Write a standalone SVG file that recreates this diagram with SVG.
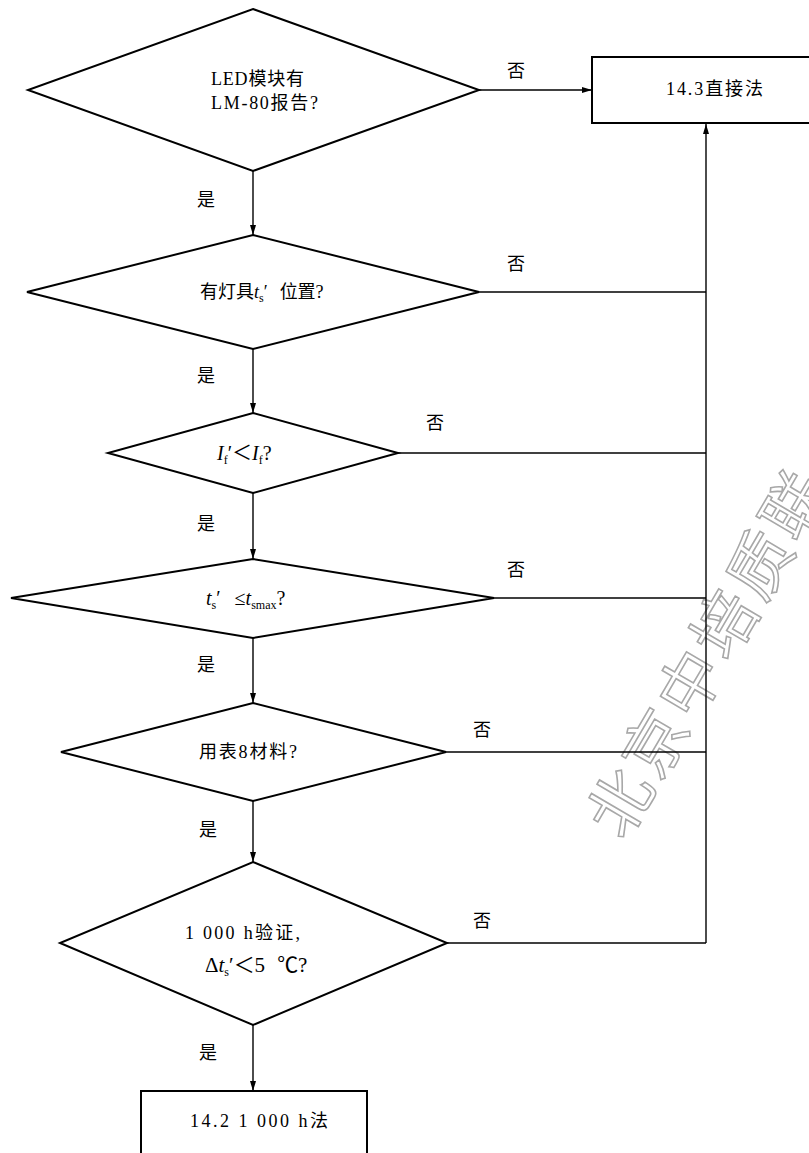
<svg xmlns="http://www.w3.org/2000/svg" width="809" height="1153" viewBox="0 0 809 1153">
<style>
.shape{fill:none;stroke:#000;stroke-width:2;stroke-linejoin:miter}
.conn{fill:none;stroke:#000;stroke-width:1.4}
.t{font-family:"Liberation Serif","Noto Sans CJK SC",serif;font-size:18px;fill:#000}
.c{text-anchor:middle}
.it{font-style:italic}
.sub{font-size:12px}
.wm{font-family:"Noto Sans CJK SC",sans-serif;font-size:64px;fill:none;stroke:#a8a8a8;stroke-width:1.6}
</style>
<defs>
<marker id="arr" viewBox="0 0 10 6" refX="10" refY="3" markerWidth="10" markerHeight="6" markerUnits="userSpaceOnUse" orient="auto">
<path d="M0,0 L10,3 L0,6 Z" fill="#000"/>
</marker>
</defs>
<rect width="809" height="1153" fill="#fff"/>
<text class="wm" x="624" y="842" letter-spacing="5" transform="rotate(-59.6 624 842)">北京中培质联</text>
<g id="connectors">
<line class="conn" x1="253" y1="171" x2="253" y2="235" marker-end="url(#arr)"/>
<line class="conn" x1="479" y1="90" x2="592" y2="90" marker-end="url(#arr)"/>
<line class="conn" x1="253" y1="349" x2="253" y2="413" marker-end="url(#arr)"/>
<line class="conn" x1="253" y1="493" x2="253" y2="559" marker-end="url(#arr)"/>
<line class="conn" x1="253" y1="638" x2="253" y2="703" marker-end="url(#arr)"/>
<line class="conn" x1="253" y1="801" x2="253" y2="862" marker-end="url(#arr)"/>
<line class="conn" x1="253" y1="1025" x2="253" y2="1091" marker-end="url(#arr)"/>
<line class="conn" x1="706" y1="943" x2="706" y2="124" marker-end="url(#arr)"/>
<line class="conn" x1="479" y1="292" x2="706" y2="292"/>
<line class="conn" x1="398" y1="453" x2="706" y2="453"/>
<line class="conn" x1="494" y1="598" x2="706" y2="598"/>
<line class="conn" x1="446" y1="752" x2="706" y2="752"/>
<line class="conn" x1="447" y1="943" x2="706" y2="943"/>
<text class="t c" x="516" y="77">否</text>
<text class="t c" x="516" y="270">否</text>
<text class="t c" x="435" y="429">否</text>
<text class="t c" x="516" y="576">否</text>
<text class="t c" x="482" y="736">否</text>
<text class="t c" x="482" y="927">否</text>
<text class="t c" x="206" y="206">是</text>
<text class="t c" x="206" y="382">是</text>
<text class="t c" x="206" y="530">是</text>
<text class="t c" x="206" y="671">是</text>
<text class="t c" x="208" y="836">是</text>
<text class="t c" x="208" y="1059">是</text>
</g>
<g id="d1">
<polygon class="shape" points="253,9 479,90 253,171 28,90"/>
<text class="t" x="211" y="85" textLength="93" lengthAdjust="spacing">LED模块有</text>
<text class="t" x="211" y="109" textLength="107" lengthAdjust="spacing">LM-80报告?</text>
</g>
<g id="box143">
<rect class="shape" x="592" y="57" width="230" height="66"/>
<text class="t" x="666" y="95" textLength="97" lengthAdjust="spacing">14.3直接法</text>
</g>
<g id="d2">
<polygon class="shape" points="253,235 479,292 253,349 27,292"/>
<text class="t" x="200" y="298">有灯具<tspan class="it">t</tspan><tspan class="sub" dy="4">s</tspan><tspan dy="-4">′</tspan><tspan dx="12">位置?</tspan></text>
</g>
<g id="d3">
<polygon class="shape" points="253,413 398,453 253,493 108,453"/>
<text class="t" x="217" y="460" style="font-size:20px"><tspan class="it">I</tspan><tspan class="sub" dy="4">f</tspan><tspan dy="-4">′＜</tspan><tspan class="it">I</tspan><tspan class="sub" dy="4">f</tspan><tspan dy="-4">?</tspan></text>
</g>
<g id="d4">
<polygon class="shape" points="253,559 494,598 253,638 11,598"/>
<text class="t" x="206" y="605" style="font-size:20px"><tspan class="it">t</tspan><tspan class="sub" dy="4">s</tspan><tspan dy="-4">′</tspan><tspan dx="14">≤</tspan><tspan class="it">t</tspan><tspan class="sub" dy="4">smax</tspan><tspan dy="-4">?</tspan></text>
</g>
<g id="d5">
<polygon class="shape" points="253,703 446,752 253,801 61,752"/>
<text class="t" x="199" y="758" textLength="98" lengthAdjust="spacing">用表8材料?</text>
</g>
<g id="d6">
<polygon class="shape" points="253,862 447,943 253,1025 60,943"/>
<text class="t" x="185" y="939" textLength="115" lengthAdjust="spacing">1 000 h验证,</text>
<text class="t" x="205" y="972" style="font-size:21px">Δ<tspan class="it">t</tspan><tspan class="sub" dy="4">s</tspan><tspan dy="-4">′＜5</tspan><tspan dx="12">℃?</tspan></text>
</g>
<g id="box142">
<rect class="shape" x="141" y="1091" width="226" height="70"/>
<text class="t" x="190" y="1127" textLength="138" lengthAdjust="spacing">14.2 1 000 h法</text>
</g>
</svg>
